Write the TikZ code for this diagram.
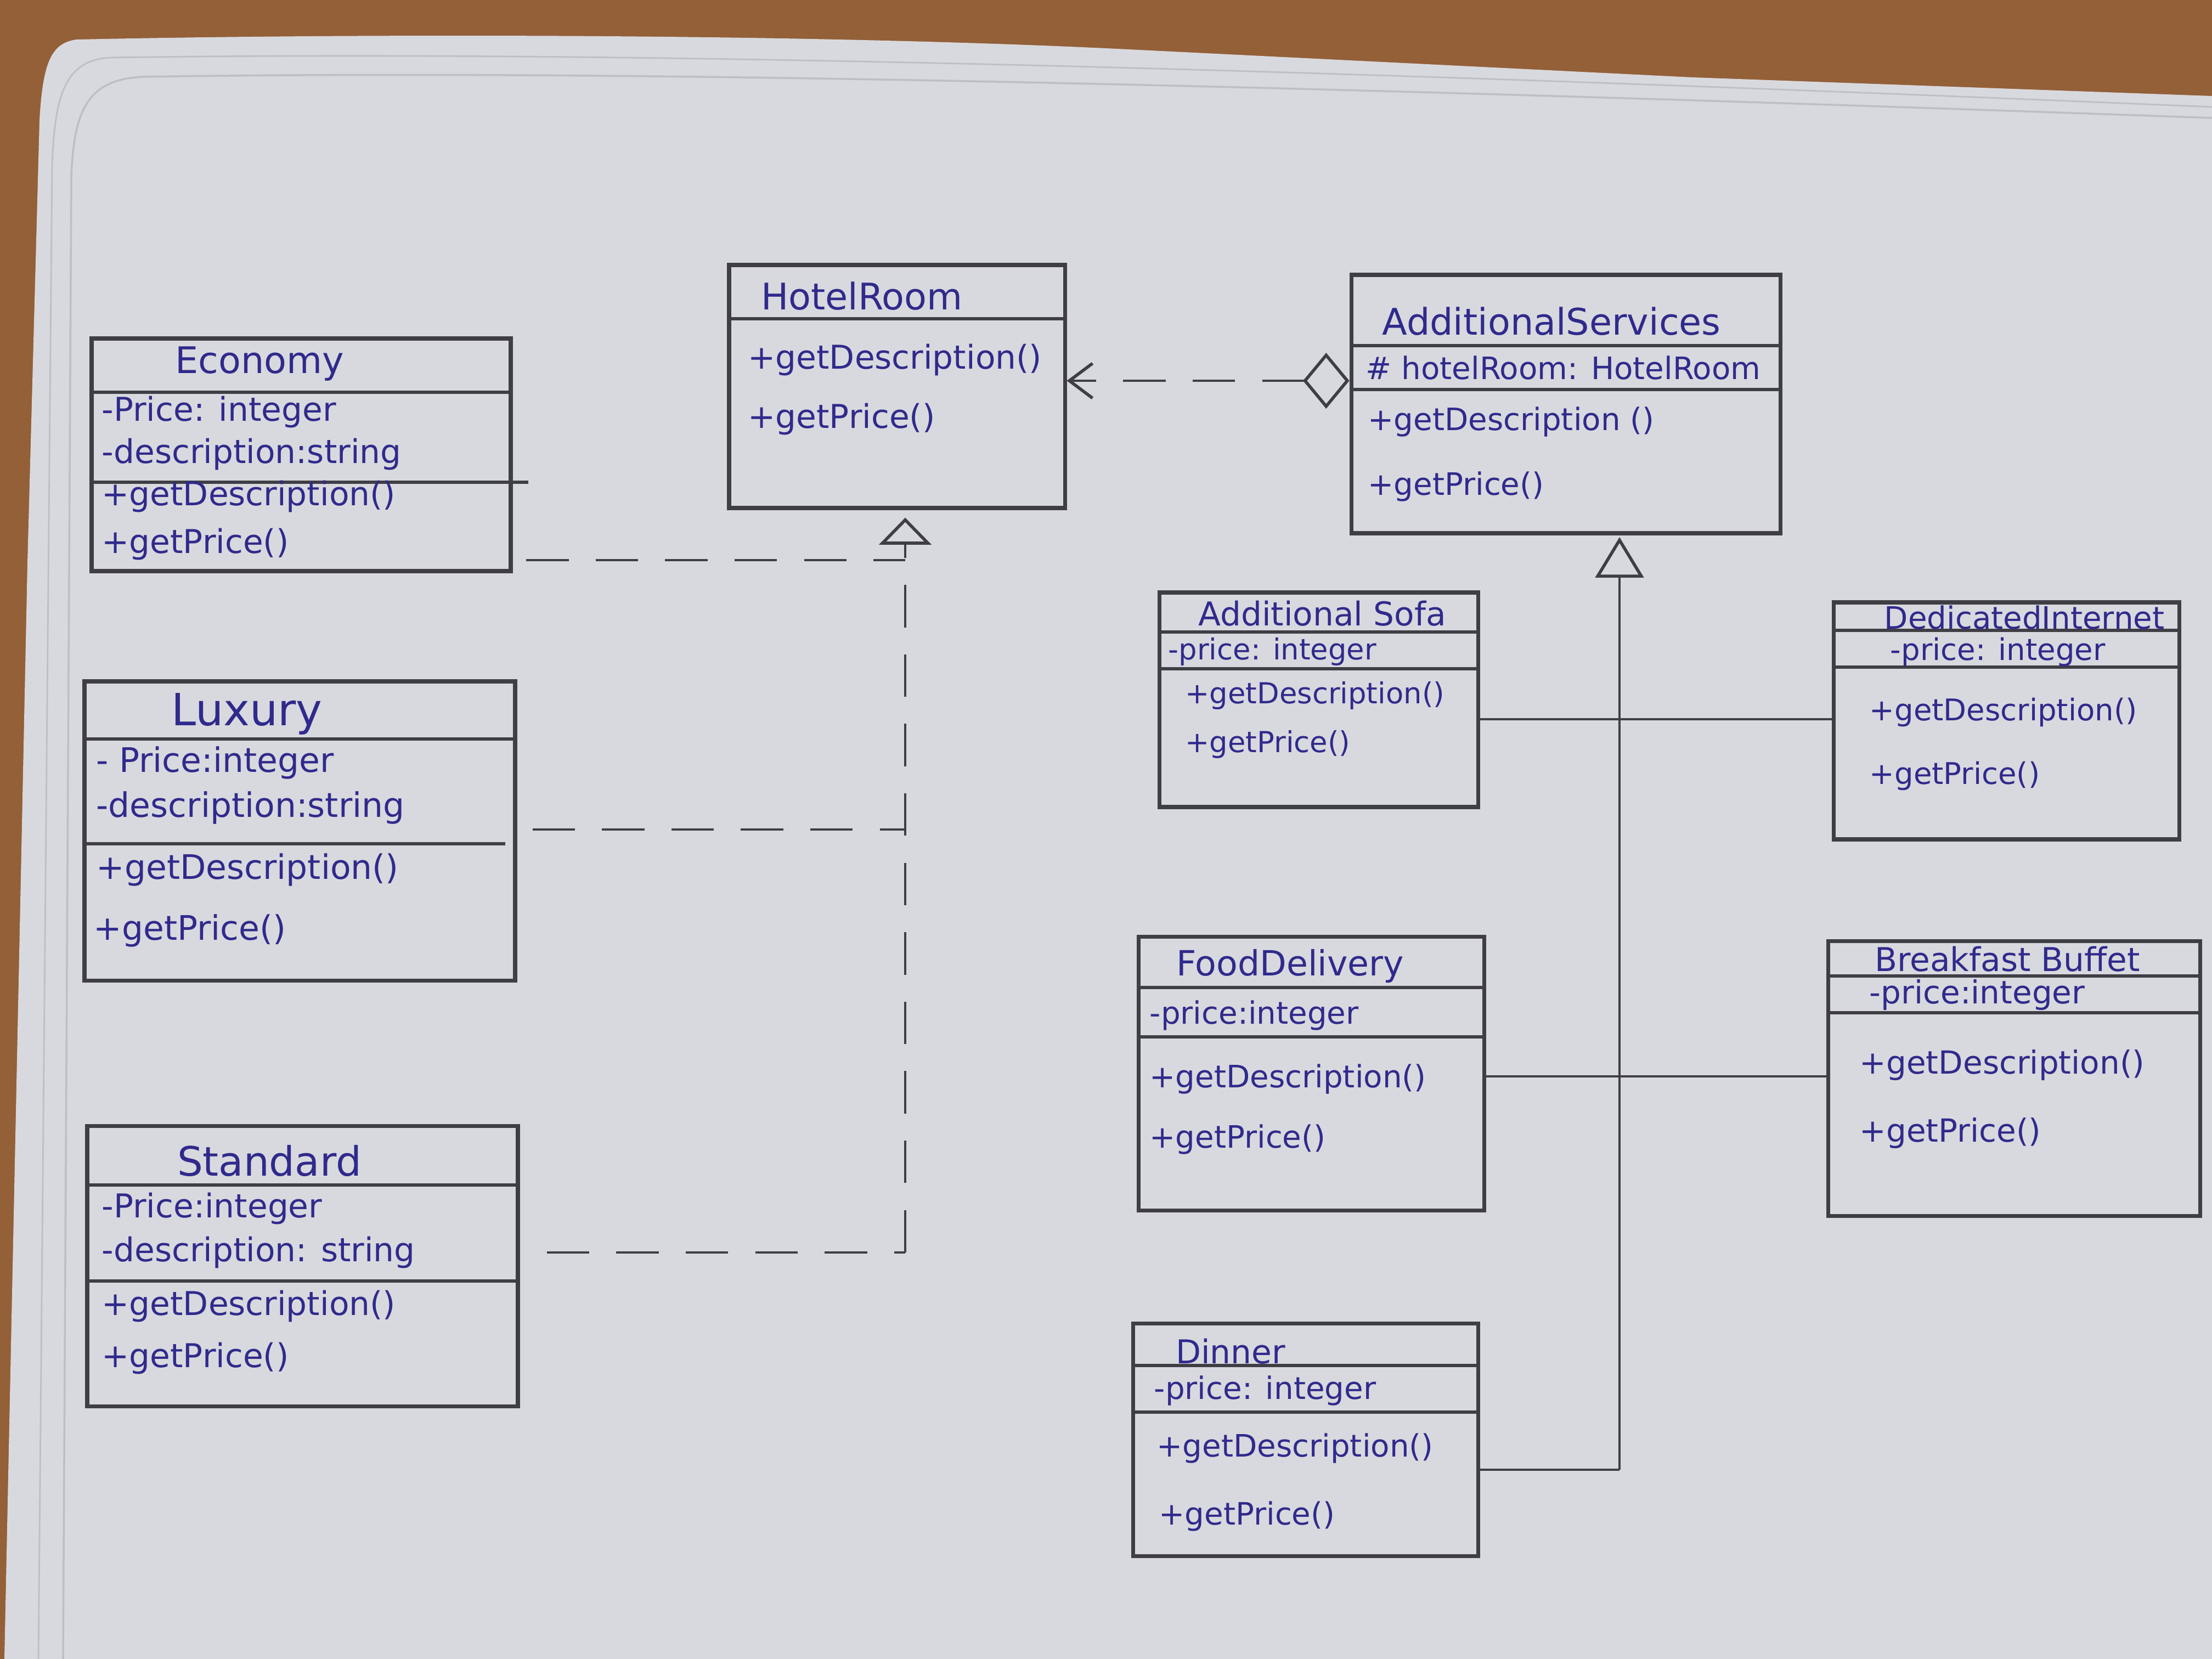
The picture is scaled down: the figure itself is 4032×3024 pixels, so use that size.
\documentclass[tikz,border=0pt]{standalone}
\usepackage{fontspec}
\setmainfont{DejaVu Sans}
\usetikzlibrary{arrows.meta,fit}
\definecolor{ink}{RGB}{48,42,140}
\definecolor{pen}{RGB}{62,62,68}
\definecolor{paper}{RGB}{216,217,222}
\definecolor{paperedge}{RGB}{190,191,196}
\definecolor{wood}{RGB}{148,96,56}
\newcommand\fsz[1]{\fontsize{#1}{#1}\selectfont}
\begin{document}
\begin{tikzpicture}[x=0.01cm,y=-0.01cm,
  box/.style={draw=pen,line width=2pt,inner sep=0pt},
  sep/.style={draw=pen,line width=1.8pt},
  conn/.style={draw=pen,line width=1.2pt},
  dashline/.style={conn,line width=1.4pt,dash pattern=on 22pt off 14pt},
  txt/.style={anchor=west,inner sep=0pt,text=ink},
  ttl/.style={anchor=center,inner sep=0pt,text=ink},
]
\useasboundingbox (0,0) rectangle (4032,3024);
% background: table and paper
\fill[wood] (0,0) rectangle (4032,3024);
\fill[paper] (8,3024) -- (50,1028) -- (72,220) .. controls (78,110) and (95,78) .. (140,72)
  .. controls (700,60) and (1500,62) .. (2057,90) -- (3085,141) -- (4032,175) -- (4032,3024) -- cycle;
\draw[paperedge,line width=0.8pt] (70,3024) -- (95,300) .. controls (100,170) and (120,110) .. (200,105)
  .. controls (1200,90) and (2500,130) .. (4032,195);
\draw[paperedge,line width=1pt] (115,3024) -- (130,320) .. controls (135,200) and (160,145) .. (260,140)
  .. controls (1200,125) and (2500,160) .. (4032,215);

% ---------- boxes ----------
\node[box,fit={(167,617) (931,1041)}] (eco) {};
\draw[sep] (eco.west |- 0,715) -- (eco.east |- 0,715);
\draw[sep] (eco.west |- 0,879) -- ([xshift=8pt]eco.east |- 0,879);
\node[box,fit={(154,1242) (939,1787)}] (lux) {};
\draw[sep] (lux.west |- 0,1347) -- (lux.east |- 0,1347);
\draw[sep] (lux.west |- 0,1538) -- ([xshift=-6pt]lux.east |- 0,1538);
\node[box,fit={(159,2052) (944,2563)}] (std) {};
\draw[sep] (std.west |- 0,2160) -- (std.east |- 0,2160);
\draw[sep] (std.west |- 0,2335) -- (std.east |- 0,2335);
\node[box,fit={(1329,483) (1941,926)}] (hr) {};
\draw[sep] (hr.west |- 0,581) -- (hr.east |- 0,581);
\node[box,fit={(2463,501) (3245,972)}] (as) {};
\draw[sep] (as.west |- 0,630) -- (as.east |- 0,630);
\draw[sep] (as.west |- 0,710) -- (as.east |- 0,710);
\node[box,fit={(2113,1080) (2694,1471)}] (sofa) {};
\draw[sep] (sofa.west |- 0,1152) -- (sofa.east |- 0,1152);
\draw[sep] (sofa.west |- 0,1219) -- (sofa.east |- 0,1219);
\node[box,fit={(3342,1098) (3972,1530)}] (int) {};
\draw[sep] (int.west |- 0,1149) -- (int.east |- 0,1149);
\draw[sep] (int.west |- 0,1216) -- (int.east |- 0,1216);
\node[box,fit={(2075,1707) (2705,2206)}] (food) {};
\draw[sep] (food.west |- 0,1800) -- (food.east |- 0,1800);
\draw[sep] (food.west |- 0,1890) -- (food.east |- 0,1890);
\node[box,fit={(3332,1715) (4010,2216)}] (bf) {};
\draw[sep] (bf.west |- 0,1779) -- (bf.east |- 0,1779);
\draw[sep] (bf.west |- 0,1846) -- (bf.east |- 0,1846);
\node[box,fit={(2065,2412) (2694,2836)}] (din) {};
\draw[sep] (din.west |- 0,2489) -- (din.east |- 0,2489);
\draw[sep] (din.west |- 0,2574) -- (din.east |- 0,2574);

% ---------- texts ----------
% Economy
\node[ttl,font=\fsz{19}] (eco-n) at (473,663) {Economy};
\node[txt,font=\fsz{17}] (eco-a1) at (185,751) {-Price: integer};
\node[txt,font=\fsz{17}] (eco-a2) at (185,828) {-description:string};
\node[txt,font=\fsz{17}] (eco-m1) at (185,905) {+getDescription()};
\node[txt,font=\fsz{17}] (eco-m2) at (185,992) {+getPrice()};
% Luxury
\node[ttl,font=\fsz{23}] (lux-n) at (450,1301) {Luxury};
\node[txt,font=\fsz{17.5}] (lux-a1) at (175,1391) {- Price:integer};
\node[txt,font=\fsz{17.5}] (lux-a2) at (175,1473) {-description:string};
\node[txt,font=\fsz{17.5}] (lux-m1) at (175,1586) {+getDescription()};
\node[txt,font=\fsz{17.5}] (lux-m2) at (170,1697) {+getPrice()};
% Standard
\node[ttl,font=\fsz{21}] (std-n) at (491,2116) {Standard};
\node[txt,font=\fsz{17}] (std-a1) at (185,2203) {-Price:integer};
\node[txt,font=\fsz{17}] (std-a2) at (185,2283) {-description: string};
\node[txt,font=\fsz{17}] (std-m1) at (185,2381) {+getDescription()};
\node[txt,font=\fsz{17}] (std-m2) at (185,2476) {+getPrice()};
% HotelRoom
\node[ttl,font=\fsz{19}] (hr-n) at (1571,540) {HotelRoom};
\node[txt,font=\fsz{17}] (hr-m1) at (1363,656) {+getDescription()};
\node[txt,font=\fsz{17}] (hr-m2) at (1363,764) {+getPrice()};
% AdditionalServices
\node[ttl,font=\fsz{19}] (as-n) at (2828,586) {AdditionalServices};
\node[txt,font=\fsz{16}] (as-a1) at (2489,671) {\# hotelRoom: HotelRoom};
\node[txt,font=\fsz{16}] (as-m1) at (2493,769) {+getDescription ()};
\node[txt,font=\fsz{16}] (as-m2) at (2493,887) {+getPrice()};
% Additional Sofa
\node[ttl,font=\fsz{17}] (sofa-n) at (2410,1118) {Additional Sofa};
\node[txt,font=\fsz{15}] (sofa-a1) at (2129,1188) {-price: integer};
\node[txt,font=\fsz{15}] (sofa-m1) at (2160,1268) {+getDescription()};
\node[txt,font=\fsz{15}] (sofa-m2) at (2160,1357) {+getPrice()};
% DedicatedInternet
\node[ttl,font=\fsz{16}] (int-n) at (3690,1126) {DedicatedInternet};
\node[txt,font=\fsz{15.5}] (int-a1) at (3445,1188) {-price: integer};
\node[txt,font=\fsz{15.5}] (int-m1) at (3407,1298) {+getDescription()};
\node[txt,font=\fsz{15.5}] (int-m2) at (3407,1414) {+getPrice()};
% FoodDelivery
\node[ttl,font=\fsz{18}] (food-n) at (2352,1761) {FoodDelivery};
\node[txt,font=\fsz{16}] (food-a1) at (2095,1851) {-price:integer};
\node[txt,font=\fsz{16}] (food-m1) at (2095,1967) {+getDescription()};
\node[txt,font=\fsz{16}] (food-m2) at (2095,2077) {+getPrice()};
% Breakfast Buffet
\node[ttl,font=\fsz{17}] (bf-n) at (3659,1748) {Breakfast Buffet};
\node[txt,font=\fsz{16.5}] (bf-a1) at (3407,1813) {-price:integer};
\node[txt,font=\fsz{16.5}] (bf-m1) at (3389,1941) {+getDescription()};
\node[txt,font=\fsz{16.5}] (bf-m2) at (3389,2065) {+getPrice()};
% Dinner
\node[ttl,font=\fsz{17}] (din-n) at (2243,2463) {Dinner};
\node[txt,font=\fsz{16}] (din-a1) at (2103,2535) {-price: integer};
\node[txt,font=\fsz{16}] (din-m1) at (2108,2640) {+getDescription()};
\node[txt,font=\fsz{16}] (din-m2) at (2112,2764) {+getPrice()};

% ---------- connectors ----------
% aggregation AdditionalServices -> HotelRoom
\draw[dashline,
  {Diamond[open,length=24pt,width=29pt,line width=1.6pt]}-{Straight Barb[length=12pt,width=18pt,line width=1.6pt]}]
  (as.west |- 0,694) -- (hr.east |- 0,694);
% realization of HotelRoom
\coordinate (rj) at (1650,2283);
\draw[dashline,shorten >=4pt,-{Triangle[open,length=14pt,width=27pt,line width=1.6pt]}]
  (rj) -- (hr.south -| rj);
\draw[dashline] ([xshift=7pt]eco.east |- 0,1021) -- (rj |- 0,1021);
\draw[dashline] ([xshift=8pt]lux.east |- 0,1512) -- (rj |- 0,1512);
\draw[dashline] ([xshift=14pt]std.east |- rj) -- (rj);
% generalization to AdditionalServices
\coordinate (gj) at (2952,2679);
\draw[conn,shorten >=1pt,-{Triangle[open,length=21pt,width=25pt,line width=1.6pt]}]
  (gj) -- (as.south -| gj);
\draw[conn] (din.east |- gj) -- (gj);
\draw[conn] (sofa.east |- 0,1311) -- (int.west |- 0,1311);
\draw[conn] (food.east |- 0,1962) -- (bf.west |- 0,1962);
\end{tikzpicture}
\end{document}
